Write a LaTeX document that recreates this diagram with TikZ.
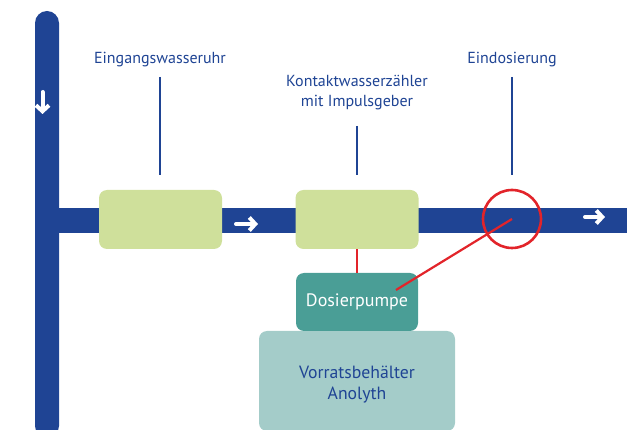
\documentclass[tikz,border=0pt]{standalone}
\usepackage{fontspec}
\setmainfont{PT Sans}
\usetikzlibrary{arrows.meta}
\definecolor{pipeblue}{RGB}{31,68,148}
\definecolor{boxgreen}{RGB}{207,224,155}
\definecolor{pumpteal}{RGB}{74,158,150}
\definecolor{tankteal}{RGB}{164,204,201}
\definecolor{dosred}{RGB}{226,36,42}
\tikzset{
  pipe/.style={fill=pipeblue, draw=none},
  meterbox/.style={fill=boxgreen, draw=none, rounded corners=8pt, minimum width=123pt, minimum height=59pt, inner sep=0pt},
  pumpbox/.style={fill=pumpteal, draw=none, rounded corners=8pt, minimum width=122pt, minimum height=58pt, inner sep=0pt, text=white, font=\fontsize{18}{20}\selectfont},
  tankbox/.style={fill=tankteal, draw=none, rounded corners=8pt, minimum width=196pt, minimum height=100pt, inner sep=0pt},
  tanktext/.style={text=pipeblue, align=center, font=\fontsize{17.7}{21}\selectfont, inner sep=0pt},
  lbl/.style={text=pipeblue, align=center, font=\fontsize{16}{20}\selectfont, inner sep=0pt},
  leader/.style={draw=pipeblue, line width=1.3pt},
  redline/.style={draw=dosred, line width=2.2pt},
  flow/.style={draw=white, line width=4pt, -{Straight Barb[length=6pt,width=13pt,line width=4pt]}, line cap=round},
}
\begin{document}
\begin{tikzpicture}[x=1pt,y=-1pt]
\useasboundingbox (0,0) rectangle (627,430);
% pipes
\fill[pipe, rounded corners=12pt] (35,11) rectangle (59,438);
\fill[pipe] (55,208) rectangle (627,233);
% boxes
\node[meterbox] (m1) at (160.5,219.5) {};
\node[meterbox] (m2) at (357,219.5) {};
\node[tankbox] (tank) at (357,381) {};
\node[tanktext] (tanklabel) at (357,385) {Vorratsbehälter\\Anolyth};
\node[pumpbox] (pump) at (357,302) {Dosierpumpe};
% injection point
\coordinate (inj) at (512,219);
\node[circle, draw=dosred, line width=2.6pt, minimum size=58pt, inner sep=0pt] (circ) at (inj) {};
\coordinate (pumpend) at (396,290);
\draw[redline] (m2.south) -- (pump.north);
\draw[redline] (inj) -- (pumpend);
% labels
\node[lbl] (l1) at (160,60) {Eingangswasseruhr};
\node[lbl] (l2) at (357,93) {Kontaktwasserzähler\\mit Impulsgeber};
\node[lbl] (l3) at (512,60) {Eindosierung};
\coordinate (l1b) at (160,77);
\coordinate (l1e) at (160,175);
\coordinate (l2b) at (357,126);
\coordinate (l2e) at (357,175);
\coordinate (l3b) at (512,77);
\coordinate (l3e) at (512,175);
\draw[leader] (l1b) -- (l1e);
\draw[leader] (l2b) -- (l2e);
\draw[leader] (l3b) -- (l3e);
% flow arrows
\coordinate (a1s) at (42.5,92);
\coordinate (a1e) at (42.5,114);
\coordinate (a2s) at (236,224);
\coordinate (a2e) at (258,224);
\coordinate (a3s) at (585,217);
\coordinate (a3e) at (605,217);
\draw[flow] (a1s) -- (a1e);
\draw[flow] (a2s) -- (a2e);
\draw[flow] (a3s) -- (a3e);
\end{tikzpicture}
\end{document}
